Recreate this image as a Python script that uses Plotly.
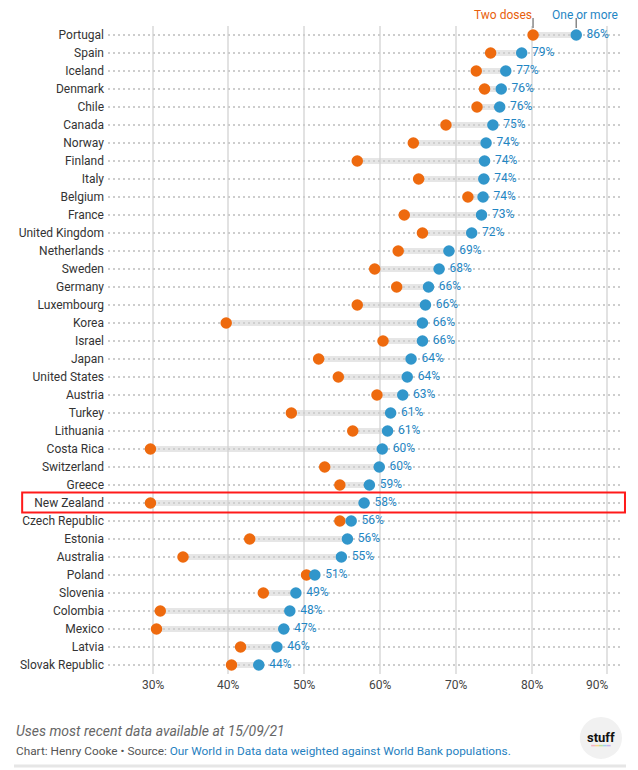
import plotly.graph_objects as go

countries = ["Portugal", "Spain", "Iceland", "Denmark", "Chile", "Canada", "Norway", "Finland",
             "Italy", "Belgium", "France", "United Kingdom", "Netherlands", "Sweden", "Germany",
             "Luxembourg", "Korea", "Israel", "Japan", "United States", "Austria", "Turkey",
             "Lithuania", "Costa Rica", "Switzerland", "Greece", "New Zealand", "Czech Republic",
             "Estonia", "Australia", "Poland", "Slovenia", "Colombia", "Mexico", "Latvia",
             "Slovak Republic"]
two_doses = [80.2, 74.6, 72.7, 73.8, 72.8, 68.7, 64.4, 57.0, 65.1, 71.6, 63.2, 65.6, 62.4, 59.3,
             62.2, 57.0, 39.7, 60.4, 51.9, 54.5, 59.6, 48.3, 56.4, 29.7, 52.7, 54.7, 29.7, 54.7,
             42.8, 34.0, 50.3, 44.6, 31.0, 30.5, 41.6, 40.4]
one_or_more = [85.9, 78.7, 76.6, 76.0, 75.8, 74.9, 74.0, 73.8, 73.7, 73.6, 73.4, 72.1, 69.1, 67.8,
               66.4, 66.0, 65.6, 65.6, 64.1, 63.6, 63.0, 61.4, 61.0, 60.3, 59.9, 58.6, 57.9, 56.2,
               55.7, 54.9, 51.4, 48.9, 48.1, 47.3, 46.4, 44.0]
x_ticks = [30, 40, 50, 60, 70, 80, 90]
x_tick_labels = ["30%", "40%", "50%", "60%", "70%", "80%", "90%"]
highlight = "New Zealand"

ORANGE = "#EE6A0E"
BLUE = "#3196CB"
BLUE_TEXT = "#1F86C4"
FONT = "Roboto"

rows = list(range(len(countries)))

# connectors
cx, cy = [], []
for i, (a, b) in enumerate(zip(two_doses, one_or_more)):
    cx += [a, b, None]
    cy += [i, i, None]

fig = go.Figure()
fig.add_trace(go.Scatter(x=cx, y=cy, mode="lines",
                         line=dict(color="rgba(210,210,210,0.55)", width=6),
                         hoverinfo="skip", showlegend=False))
fig.add_trace(go.Scatter(x=two_doses, y=rows, mode="markers",
                         marker=dict(color=ORANGE, size=11.5, line=dict(width=0)),
                         name="Two doses", showlegend=False, cliponaxis=False))
fig.add_trace(go.Scatter(x=one_or_more, y=rows, mode="markers",
                         marker=dict(color=BLUE, size=11.5, line=dict(width=0)),
                         name="One or more", showlegend=False, cliponaxis=False))
# value labels (invisible larger markers push the text a little further right)
fig.add_trace(go.Scatter(x=one_or_more, y=rows, mode="markers+text",
                         marker=dict(color="rgba(0,0,0,0)", size=15, line=dict(width=0)),
                         text=[f"{v:.0f}%" for v in one_or_more],
                         textposition="middle right",
                         textfont=dict(family=FONT, size=12, color=BLUE_TEXT),
                         hoverinfo="skip", showlegend=False, cliponaxis=False))

fig.update_xaxes(range=[24.1, 91.94], tickvals=x_ticks, showticklabels=False,
                 showgrid=True, gridcolor="#E2E2E2", gridwidth=2, zeroline=False,
                 showline=False, fixedrange=True, automargin=False)
fig.update_yaxes(range=[len(countries) - 0.5, -0.5], tickvals=rows, ticktext=countries,
                 showgrid=True, gridcolor="#CDCDCD", gridwidth=2, griddash="2px,3px",
                 zeroline=False, showline=False, ticks="", ticklabelstandoff=3,
                 tickfont=dict(family=FONT, size=12, color="#333333"), fixedrange=True,
                 automargin=False)

annotations = []
for v, t in zip(x_ticks, x_tick_labels):
    last = v == x_ticks[-1]
    annotations.append(dict(x=v, xref="x", y=-0.017, yref="paper", text=t,
                            showarrow=False, xanchor="right" if last else "center",
                            xshift=3 if last else 0, yanchor="middle",
                            font=dict(family=FONT, size=12, color="#444444")))

# legend labels tied to the first row
annotations.append(dict(x=two_doses[0], xref="x", y=1.017, yref="paper", text="Two doses",
                        showarrow=False, xanchor="right", xshift=1, yanchor="middle",
                        font=dict(family=FONT, size=12, color="#E8600C")))
annotations.append(dict(x=one_or_more[0], xref="x", y=1.017, yref="paper", text="One or more",
                        showarrow=False, xanchor="center", xshift=9, yanchor="middle",
                        font=dict(family=FONT, size=12, color=BLUE_TEXT)))

annotations.append(dict(x=-0.1829, xref="paper", y=-0.088, yref="paper",
                        text="<i>Uses most recent data available at 15/09/21</i>",
                        showarrow=False, xanchor="left", yanchor="middle",
                        font=dict(family=FONT, size=14, color="#666666")))
annotations.append(dict(x=-0.1829, xref="paper", y=-0.1188, yref="paper",
                        text="Chart: Henry Cooke • Source: <span style='color:#1F7FC0'>Our World in Data data weighted against World Bank populations.</span>",
                        showarrow=False, xanchor="left", yanchor="middle",
                        font=dict(family=FONT, size=11.8, color="#555555")))
annotations.append(dict(x=0.959, xref="paper", y=-0.0975, yref="paper", text="<b>stuff</b>",
                        showarrow=False, xanchor="center", yanchor="middle",
                        font=dict(family=FONT, size=13, color="#111111")))

hi = countries.index(highlight)
shapes = [
    dict(type="line", xref="x", yref="paper", x0=two_doses[0], x1=two_doses[0],
         y0=0.997, y1=1.0123, line=dict(color="#888888", width=1.5)),
    dict(type="line", xref="x", yref="paper", x0=one_or_more[0], x1=one_or_more[0],
         y0=0.997, y1=1.0123, line=dict(color="#888888", width=1.5)),
    dict(type="rect", xref="paper", yref="y", x0=-0.167, x1=1.0058,
         y0=hi - 0.58, y1=hi + 0.53, line=dict(color="#FF1A1A", width=2)),
    dict(type="circle", xref="paper", yref="paper", x0=0.918, x1=1.0, y0=-0.131, y1=-0.0664,
         fillcolor="#F1F1F1", line=dict(width=0), layer="below"),
    dict(type="line", xref="paper", yref="paper", x0=-0.1829, x1=1.0078, y0=-0.142, y1=-0.142,
         line=dict(color="#E6E6E6", width=3)),
]
rainbow = ["#F7B2C4", "#F9D38A", "#B9E3A0", "#9FD3F0", "#C6B3EE"]
seg = (0.978 - 0.940) / len(rainbow)
for k, c in enumerate(rainbow):
    shapes.append(dict(type="line", xref="paper", yref="paper", x0=0.940 + k * seg,
                       x1=0.940 + (k + 1) * seg, y0=-0.1105, y1=-0.1105,
                       line=dict(color=c, width=1.5)))

fig.update_layout(width=638, height=770, margin=dict(l=108, r=16, t=26, b=96),
                  paper_bgcolor="white", plot_bgcolor="white",
                  font=dict(family=FONT), annotations=annotations, shapes=shapes,
                  showlegend=False)

fig.write_html("out.html", config={"displayModeBar": False},
               post_script="document.body.style.margin='0px';")
